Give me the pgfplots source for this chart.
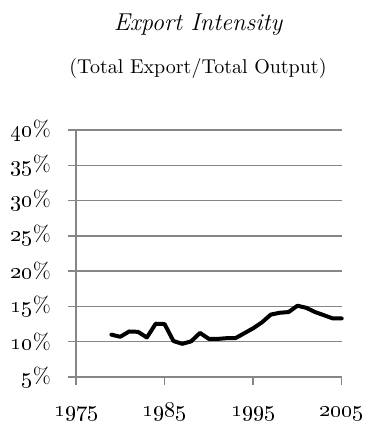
\documentclass[border=0pt]{standalone}
\usepackage{fix-cm}
\usepackage{pgfplots}
\pgfplotsset{compat=1.18}
\definecolor{gridgray}{RGB}{134,134,134}

\pgfplotstableread{
year value
1979 11.0
1980 10.7
1981 11.45
1982 11.4
1983 10.6
1984 12.55
1985 12.5
1986 10.1
1987 9.7
1988 10.05
1989 11.25
1990 10.4
1991 10.4
1992 10.5
1993 10.5
1994 11.2
1995 11.9
1996 12.75
1997 13.85
1998 14.1
1999 14.2
2000 15.1
2001 14.8
2002 14.2
2003 13.75
2004 13.3
2005 13.3
}\exportdata

\begin{document}
\begin{tikzpicture}
\useasboundingbox (-38pt,-22pt) rectangle (146.5pt,188.5pt);
\node[font=\fontsize{12.2}{14}\selectfont\itshape, anchor=base] at (61pt,173.2pt) {Export Intensity};
\node[font=\fontsize{10}{12}\selectfont, anchor=base] at (61pt,151.5pt) {(Total Export/Total Output)};
\begin{axis}[
  at={(0pt,0pt)}, anchor=south west,
  scale only axis,
  width=132.85pt, height=123.5pt,
  xmin=1975, xmax=2005, ymin=5, ymax=40,
  axis lines*=left,
  axis line style={draw=gridgray, line width=0.75pt, -},
  xtick={1975,1985,1995,2005},
  xticklabels={\oldstylenums{1975},\oldstylenums{1985},\oldstylenums{1995},\oldstylenums{2005}},
  ytick={5,10,...,40},
  yticklabels={\oldstylenums{5}\%,\oldstylenums{10}\%,\oldstylenums{15}\%,\oldstylenums{20}\%,\oldstylenums{25}\%,\oldstylenums{30}\%,\oldstylenums{35}\%,\oldstylenums{40}\%},
  tick align=outside,
  major tick length=4pt,
  tick style={draw=gridgray, line width=0.75pt},
  ymajorgrids,
  grid style={draw=gridgray, line width=0.75pt},
  ticklabel style={font=\fontsize{11}{13}\selectfont},
  xticklabel style={anchor=base, yshift=-15.5pt},
  yticklabel style={anchor=east, xshift=-5pt},
  clip=false,
]
\addplot[black, line width=2pt, line join=round, line cap=round, mark=none] table[x=year, y=value] {\exportdata};
\end{axis}
\end{tikzpicture}
\end{document}
